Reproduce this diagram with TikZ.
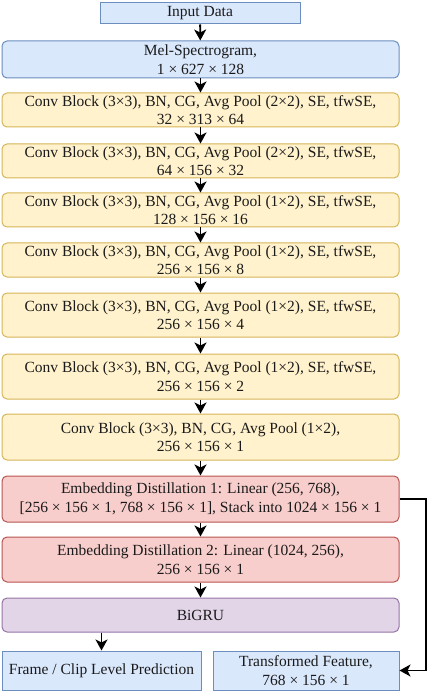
\documentclass[tikz,border=0pt]{standalone}
\usepackage{fontspec}
\setmainfont{Liberation Serif}
\usetikzlibrary{arrows.meta}
\definecolor{bfill}{HTML}{DAE8FC}\definecolor{bdraw}{HTML}{6C8EBF}
\definecolor{yfill}{HTML}{FFF2CC}\definecolor{ydraw}{HTML}{D6B656}
\definecolor{rfill}{HTML}{F8CECC}\definecolor{rdraw}{HTML}{B85450}
\definecolor{pfill}{HTML}{E1D5E7}\definecolor{pdraw}{HTML}{9673A6}
\definecolor{txt}{HTML}{1A1A1A}
\tikzset{
  box/.style={rectangle, inner sep=0pt, align=center, line width=1pt,
    font=\fontsize{15.5}{18.5}\selectfont, text=txt, minimum width=397pt},
  rbox/.style={box, rounded corners=5pt},
  blue/.style={fill=bfill, draw=bdraw},
  yel/.style={rbox, fill=yfill, draw=ydraw},
  red/.style={rbox, fill=rfill, draw=rdraw},
  pur/.style={rbox, fill=pfill, draw=pdraw},
  arr/.style={line width=1.8pt, -{Stealth[length=11pt,width=12pt,inset=3pt]}},
}
\begin{document}
\begin{tikzpicture}[x=1pt,y=-1pt]
\useasboundingbox (0,0) rectangle (428,692);
\node[box, blue, minimum width=200pt, minimum height=21pt] (in) at (200,13.5) {Input Data};
\node[rbox, blue, minimum height=37pt] (mel) at (200.5,59.5) {Mel-Spectrogram,\\1 × 627 × 128};
\node[yel, minimum height=34pt] (c1) at (200.5,110) {Conv Block (3×3), BN, CG, Avg Pool (2×2), SE, tfwSE,\\32 × 313 × 64};
\node[yel, minimum height=34pt] (c2) at (200.5,161) {Conv Block (3×3), BN, CG, Avg Pool (2×2), SE, tfwSE,\\64 × 156 × 32};
\node[yel, minimum height=34pt] (c3) at (200.5,210) {Conv Block (3×3), BN, CG, Avg Pool (1×2), SE, tfwSE,\\128 × 156 × 16};
\node[yel, minimum height=34pt] (c4) at (200.5,260) {Conv Block (3×3), BN, CG, Avg Pool (1×2), SE, tfwSE,\\256 × 156 × 8};
\node[yel, minimum height=44pt] (c5) at (200.5,315) {Conv Block (3×3), BN, CG, Avg Pool (1×2), SE, tfwSE,\\256 × 156 × 4};
\node[yel, minimum height=45pt] (c6) at (200.5,376.5) {Conv Block (3×3), BN, CG, Avg Pool (1×2), SE, tfwSE,\\256 × 156 × 2};
\node[yel, minimum height=46pt] (c7) at (200.5,437) {Conv Block (3×3), BN, CG, Avg Pool (1×2),\\256 × 156 × 1};
\node[red, minimum height=46pt] (ed1) at (200.5,499) {Embedding Distillation 1: Linear (256, 768),\\{}[256 × 156 × 1, 768 × 156 × 1], Stack into 1024 × 156 × 1};
\node[red, minimum height=45pt] (ed2) at (200.5,559.5) {Embedding Distillation 2: Linear (1024, 256),\\256 × 156 × 1};
\node[pur, minimum height=34pt] (gru) at (200.5,615) {BiGRU};
\node[box, blue, minimum width=199pt, minimum height=39pt] (fr) at (101.5,670.5) {Frame / Clip Level Prediction};
\node[box, blue, minimum width=186pt, minimum height=39pt] (tf) at (306,670.5) {Transformed Feature,\\768 × 156 × 1};
\coordinate (rc) at (426,499);
\draw[arr] (in) -- (mel);
\draw[arr] (mel) -- (c1);
\draw[arr] (c1) -- (c2);
\draw[arr] (c2) -- (c3);
\draw[arr] (c3) -- (c4);
\draw[arr] (c4) -- (c5);
\draw[arr] (c5) -- (c6);
\draw[arr] (c6) -- (c7);
\draw[arr] (c7) -- (ed1);
\draw[arr] (ed1) -- (ed2);
\draw[arr] (ed2) -- (gru);
\draw[arr] (fr.north |- gru.south) -- (fr.north);
\draw[arr] (ed1.east) -- (rc) |- (tf.east);
\end{tikzpicture}
\end{document}
